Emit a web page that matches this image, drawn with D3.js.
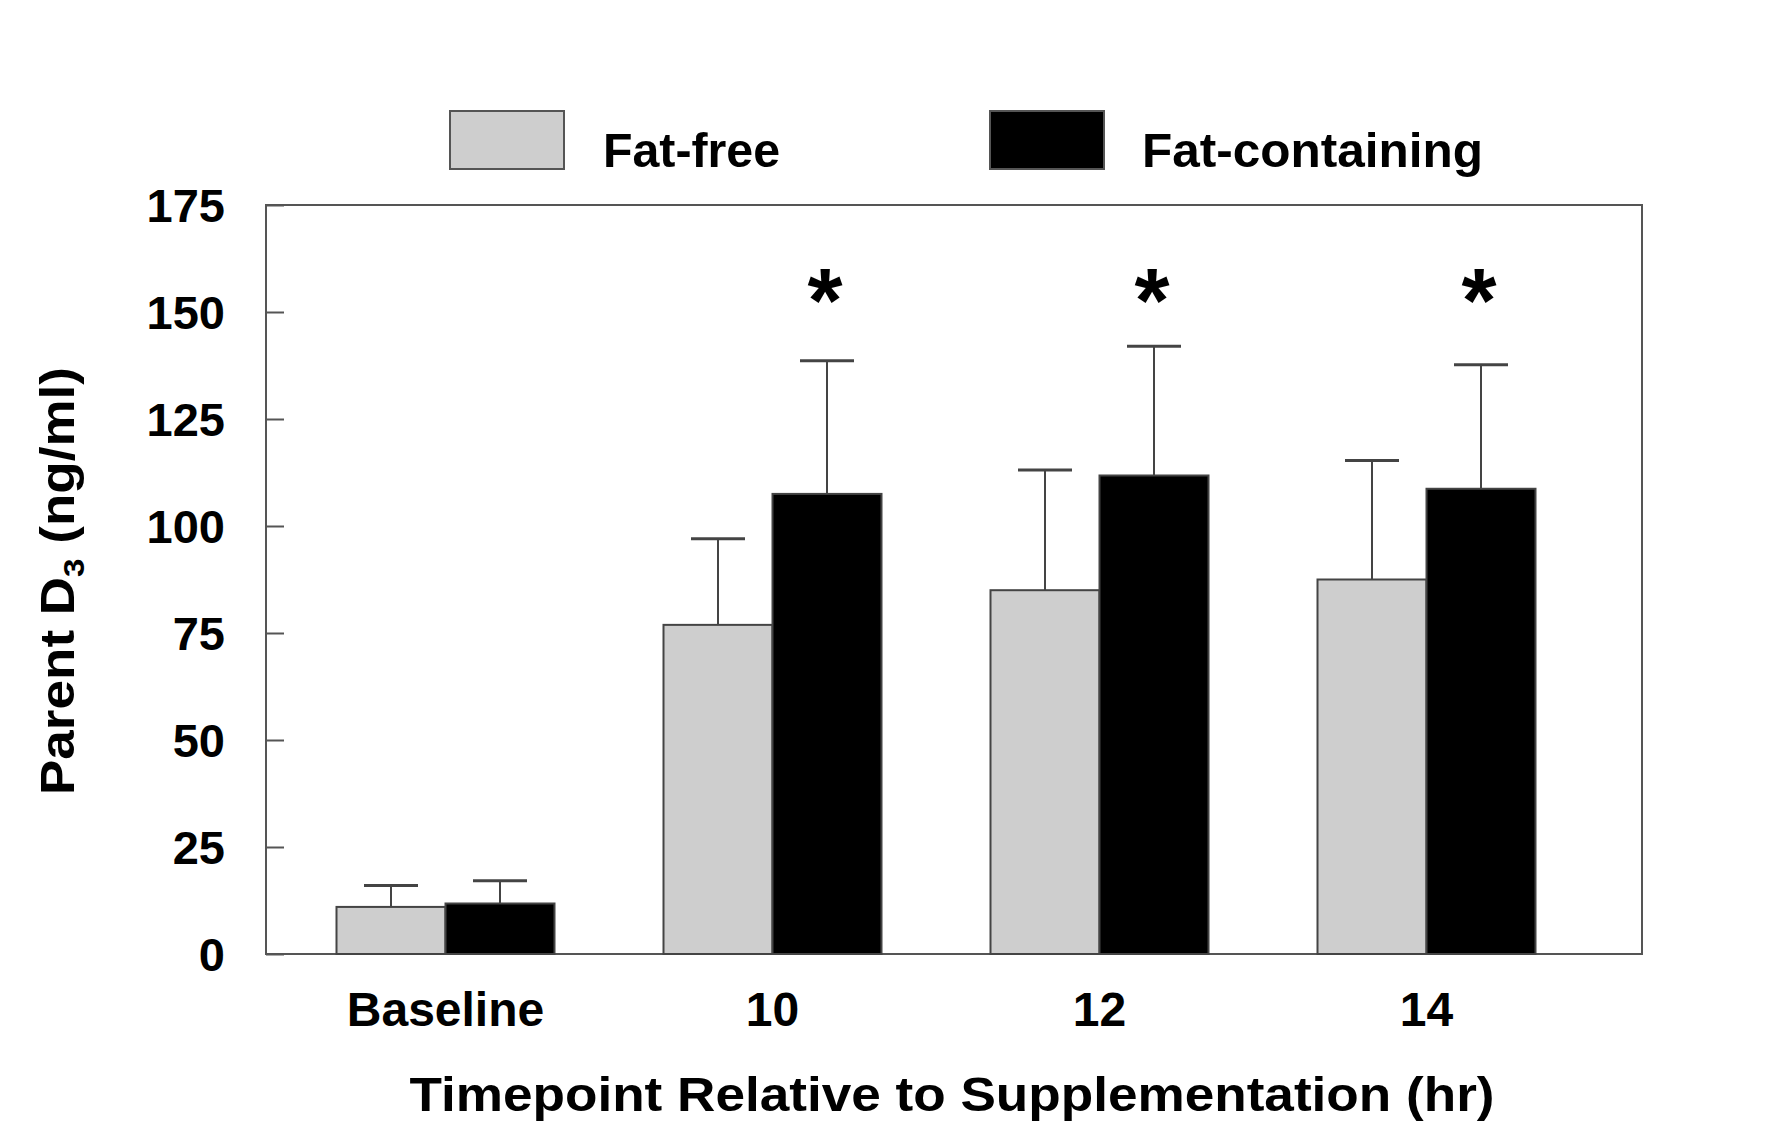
<!DOCTYPE html>
<html>
<head>
<meta charset="utf-8">
<script src="https://cdn.jsdelivr.net/npm/d3@7"></script>
<style>
  body { margin: 0; background: #fff; }
  text { font-family: "Liberation Sans", Arial, sans-serif; font-weight: bold; fill: #000; }
</style>
</head>
<body>
<script>
// data
var timepoints = ["Baseline", "10", "12", "14"];
var groups = ["Fat-free", "Fat-containing"];
var fatFree = [11.0, 76.9, 85.0, 87.5];
var fatFreeSD = [5.0, 20.1, 28.1, 27.8];
var fatCont = [11.8, 107.5, 111.8, 108.7];
var fatContSD = [5.3, 31.1, 30.2, 29.0];
var significant = [false, true, true, true];
var yTicks = [0, 25, 50, 75, 100, 125, 150, 175];
var colors = ["#cecece", "#000000"];

var W = 1768, H = 1130;
var margin = { top: 205, right: 126, bottom: 176, left: 266 },
    width = W - margin.left - margin.right,
    height = H - margin.top - margin.bottom;

var svg = d3.select("body").append("svg")
    .attr("width", W).attr("height", H)
  .append("g")
    .attr("transform", "translate(" + margin.left + "," + margin.top + ")");

var x = d3.scaleBand().domain(timepoints)
    .range([16, 1324]).paddingInner(1 / 3).paddingOuter(1 / 6);
var xs = d3.scaleBand().domain(groups).range([0, x.bandwidth()]);
var y = d3.scaleLinear().domain([0, 175]).range([height, 0]);

// frame
svg.append("rect")
    .attr("width", width).attr("height", height)
    .attr("fill", "none").attr("stroke", "#555").attr("stroke-width", 2);

// y axis
var yAxis = svg.append("g")
    .call(d3.axisLeft(y).tickValues(yTicks).tickSizeInner(-18).tickSizeOuter(0).tickPadding(41));
yAxis.select(".domain").remove();
yAxis.selectAll("line").attr("stroke", "#555").attr("stroke-width", 2);
yAxis.selectAll("text").attr("font-size", 47).attr("font-family", null).attr("dy", "0.36em");

// x axis labels
var xAxis = svg.append("g")
    .attr("transform", "translate(0," + height + ")")
    .call(d3.axisBottom(x).tickSize(0).tickPadding(0));
xAxis.select(".domain").remove();
xAxis.selectAll("text").attr("font-size", 48).attr("font-family", null)
    .attr("y", 72).attr("dy", 0);

var series = [
  { name: groups[0], vals: fatFree, sd: fatFreeSD, color: colors[0] },
  { name: groups[1], vals: fatCont, sd: fatContSD, color: colors[1] }
];

series.forEach(function (s) {
  var g = svg.append("g");
  // error bars (upper only)
  timepoints.forEach(function (t, i) {
    var cx = x(t) + xs(s.name) + xs.bandwidth() / 2;
    g.append("line")
        .attr("x1", cx).attr("x2", cx)
        .attr("y1", y(s.vals[i])).attr("y2", y(s.vals[i] + s.sd[i]))
        .attr("stroke", "#444").attr("stroke-width", 2);
    g.append("line")
        .attr("x1", cx - 27).attr("x2", cx + 27)
        .attr("y1", y(s.vals[i] + s.sd[i])).attr("y2", y(s.vals[i] + s.sd[i]))
        .attr("stroke", "#444").attr("stroke-width", 3);
  });
  g.selectAll("rect").data(s.vals).enter().append("rect")
      .attr("x", function (d, i) { return x(timepoints[i]) + xs(s.name); })
      .attr("y", function (d) { return y(d); })
      .attr("width", xs.bandwidth())
      .attr("height", function (d) { return height - y(d); })
      .attr("fill", s.color)
      .attr("stroke", "#444").attr("stroke-width", 2);
});

// significance markers
svg.selectAll(".star").data(significant).enter()
  .filter(function (d) { return d; })
  .append("text")
    .attr("class", "star")
    .attr("x", function (d, i) { return x(timepoints[i + 1]) + xs(groups[1]) + xs.bandwidth() / 2 - 2; })
    .attr("y", 127)
    .attr("text-anchor", "middle")
    .attr("font-size", 90)
    .text("*");

// axis titles
svg.append("text")
    .attr("x", 952 - margin.left).attr("y", 1111 - margin.top)
    .attr("text-anchor", "middle").attr("font-size", 48)
    .attr("textLength", 1085).attr("lengthAdjust", "spacingAndGlyphs")
    .text("Timepoint Relative to Supplementation (hr)");

var yt = svg.append("text")
    .attr("transform", "translate(" + (74 - margin.left) + "," + (581 - margin.top) + ") rotate(-90)")
    .attr("text-anchor", "middle").attr("font-size", 48)
    .attr("textLength", 428).attr("lengthAdjust", "spacingAndGlyphs");
yt.append("tspan").text("Parent D");
yt.append("tspan").attr("font-size", 30).attr("dy", 10).text("3");
yt.append("tspan").attr("dy", -10).text(" (ng/ml)");

// legend
var legX = [450, 990], legTextX = [603, 1142], legTextW = [177, 341];
groups.forEach(function (gname, i) {
  svg.append("rect")
      .attr("x", legX[i] - margin.left).attr("y", 111 - margin.top)
      .attr("width", 114).attr("height", 58)
      .attr("fill", colors[i]).attr("stroke", "#555").attr("stroke-width", 2);
  svg.append("text")
      .attr("x", legTextX[i] - margin.left).attr("y", 167 - margin.top)
      .attr("font-size", 48)
      .attr("textLength", legTextW[i]).attr("lengthAdjust", "spacingAndGlyphs")
      .text(gname);
});
</script>
</body>
</html>
